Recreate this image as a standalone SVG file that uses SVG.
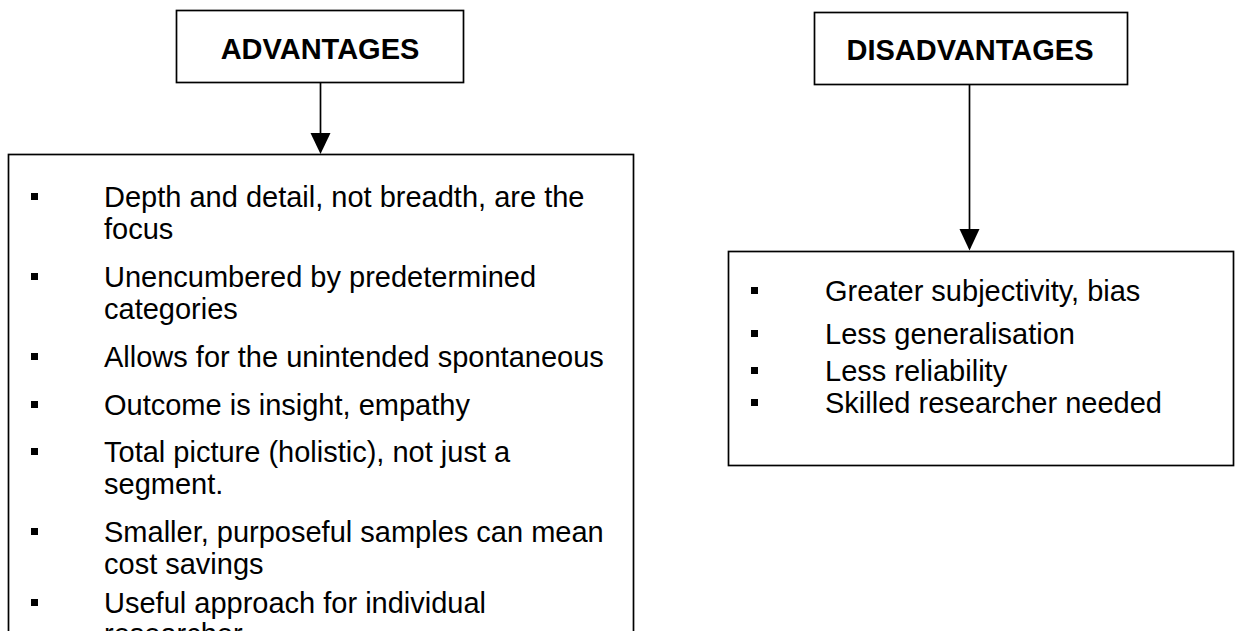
<svg xmlns="http://www.w3.org/2000/svg" width="1237" height="631" viewBox="0 0 1237 631">
<style>
.box{fill:#fff;stroke:#000;stroke-width:1.7}
.hd{font-family:"Liberation Sans",Arial,sans-serif;font-weight:bold;font-size:29px;fill:#000;text-anchor:middle}
.it{font-family:"Liberation Sans",Arial,sans-serif;font-size:29px;fill:#000}
.bul{fill:#000}
.ln{stroke:#000;stroke-width:1.7;fill:none}
.ah{fill:#000}
</style>
<rect width="1237" height="631" fill="#fff"/>
<g id="advantages-head">
<rect class="box" x="176.5" y="10.5" width="287" height="72"/>
<text class="hd" x="320" y="59">ADVANTAGES</text>
</g>
<g id="disadvantages-head">
<rect class="box" x="814.5" y="12.5" width="313" height="72"/>
<text class="hd" x="970" y="60">DISADVANTAGES</text>
</g>
<g id="connectors">
<line class="ln" x1="320.5" y1="83" x2="320.5" y2="136"/>
<polygon class="ah" points="310.5,133 330.5,133 320.5,154"/>
<line class="ln" x1="969.5" y1="85" x2="969.5" y2="232"/>
<polygon class="ah" points="959.5,229 979.5,229 969.5,250.5"/>
</g>
<g id="advantages-list">
<rect class="box" x="8.5" y="154.5" width="625" height="500"/>
<rect class="bul" x="31" y="193" width="7" height="7"/>
<text class="it" x="104" y="207">Depth and detail, not breadth, are the</text>
<text class="it" x="104" y="239">focus</text>
<rect class="bul" x="31" y="273" width="7" height="7"/>
<text class="it" x="104" y="287">Unencumbered by predetermined</text>
<text class="it" x="104" y="319">categories</text>
<rect class="bul" x="31" y="353" width="7" height="7"/>
<text class="it" x="104" y="367">Allows for the unintended spontaneous</text>
<rect class="bul" x="31" y="401" width="7" height="7"/>
<text class="it" x="104" y="415">Outcome is insight, empathy</text>
<rect class="bul" x="31" y="448" width="7" height="7"/>
<text class="it" x="104" y="462">Total picture (holistic), not just a</text>
<text class="it" x="104" y="494">segment.</text>
<rect class="bul" x="31" y="528" width="7" height="7"/>
<text class="it" x="104" y="542">Smaller, purposeful samples can mean</text>
<text class="it" x="104" y="574">cost savings</text>
<rect class="bul" x="31" y="599" width="7" height="7"/>
<text class="it" x="104" y="613">Useful approach for individual</text>
<text class="it" x="104" y="644">researcher</text>
</g>
<g id="disadvantages-list">
<rect class="box" x="728.5" y="251.5" width="505" height="214"/>
<rect class="bul" x="751" y="287" width="7" height="7"/>
<text class="it" x="825" y="301">Greater subjectivity, bias</text>
<rect class="bul" x="751" y="330" width="7" height="7"/>
<text class="it" x="825" y="344">Less generalisation</text>
<rect class="bul" x="751" y="367" width="7" height="7"/>
<text class="it" x="825" y="381">Less reliability</text>
<rect class="bul" x="751" y="399" width="7" height="7"/>
<text class="it" x="825" y="413">Skilled researcher needed</text>
</g>
</svg>
